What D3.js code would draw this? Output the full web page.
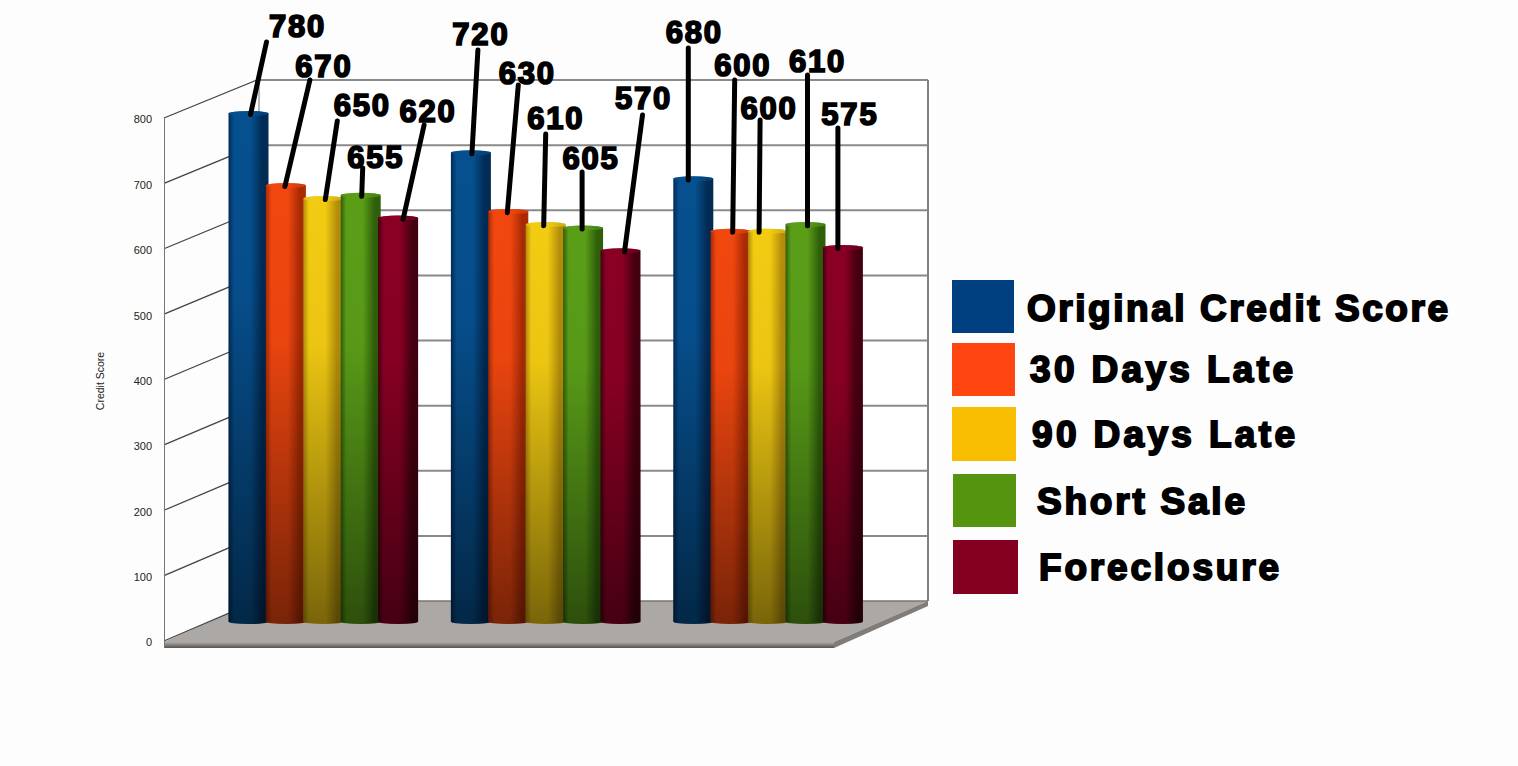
<!DOCTYPE html>
<html><head><meta charset="utf-8">
<script src="https://cdn.jsdelivr.net/npm/d3@7/dist/d3.min.js"></script>
<style>html,body{margin:0;padding:0;background:#fdfdfd;overflow:hidden}svg{display:block}</style>
</head><body><svg id="c" width="1518" height="766"></svg>
<script>
const groups = ["Group A","Group B","Group C"];
const seriesNames = ["Original Credit Score","30 Days Late","90 Days Late","Short Sale","Foreclosure"];
const originalScore = [780,720,680];
const days30 = [670,630,600];
const days90 = [650,610,600];
const shortSale = [655,605,610];
const foreclosure = [620,570,575];
const seriesValues = [originalScore,days30,days90,shortSale,foreclosure];
const axisTicks = [0,100,200,300,400,500,600,700,800];
// palette per series: edge, highlight, swatch
const barMid = ["#06508f","#f1470f","#f2cb12","#5a9e18","#8a0024"];
const barEdge = ["#022b55","#a92a05","#b38d0a","#2f5f0a","#450010"];
const swatch = ["#004080","#ff4510","#f8bc00","#55940f","#850020"];
// hand-placed annotations: [label dx, label y, leader tip dx, leader tip y, leader foot dx] by series then group
const labelLayout = [
 [[49,26,18,42,2],[10,34,7,50,1],[1,32,-5,48,-5]],
 [[38,66,24,80,-1],[19,73,10,85,-1],[12,65,4,80,2]],
 [[39,105,14,121,2],[10,118,0,134,-2],[1,108,-8,120,-9]],
 [[15,157,2,168,1],[8,158,-1,172,-1],[12,61,2,75,2]],
 [[30,111,26,125,5],[23,98,22,115,4],[7,114,-5,128,-5]]
];

const svg = d3.select("#c");
const defs = svg.append("defs");

// wall geometry
const frontX = 164, backL = 257, backR = 928, frontR = 834;
const yFront = d3.scaleLinear().domain([0,800]).range([641,118]);
const yBack = d3.scaleLinear().domain([0,800]).range([601,80]);
const yBar = d3.scaleLinear().domain([0,800]).range([623.5,100.5]);
const x0 = d3.scaleBand().domain(groups).range([228.5,228.5+3*222.4]);
const x1 = d3.scalePoint().domain(seriesNames).range([0,149.6]);
const barW = 40, rx = barW/2, ry = 2.6, barBase = 621.5;

const fp = pts => d3.line()(pts)+"Z";
// back wall
svg.append("path").attr("d",fp([[backL,yBack(800)],[backR,yBack(800)],[backR,yBack(0)],[backL,yBack(0)]])).attr("fill","#ffffff");
// floor
const fg = defs.append("linearGradient").attr("id","edge").attr("x1",0).attr("y1",0).attr("x2",0).attr("y2",1);
fg.append("stop").attr("offset",0).attr("stop-color","#b0acaa");
fg.append("stop").attr("offset",1).attr("stop-color","#55524f");
svg.append("path").attr("d",fp([[frontX,642],[frontR,642],[backR,yBack(0)],[backL,yBack(0)]])).attr("fill","#aca8a6");
svg.append("path").attr("d",fp([[frontX,642],[frontR,642],[frontR,648],[frontX,648]])).attr("fill","url(#edge)");
svg.append("path").attr("d",fp([[frontR,642],[backR,yBack(0)],[backR,606],[frontR,648]])).attr("fill","#807c79");
// grid on back wall and side wall
axisTicks.forEach(t=>{
  if(t>0) svg.append("line").attr("x1",backL).attr("x2",backR).attr("y1",yBack(t)).attr("y2",yBack(t)).attr("stroke","#8a8a8a").attr("stroke-width",2);
  svg.append("line").attr("x1",frontX).attr("x2",backL).attr("y1",yFront(t)).attr("y2",yBack(t)).attr("stroke","#444").attr("stroke-width",1.3);
});
svg.append("line").attr("x1",backR).attr("x2",backR).attr("y1",yBack(800)).attr("y2",yBack(0)).attr("stroke","#808080").attr("stroke-width",2);
svg.append("line").attr("x1",backL+2).attr("x2",backL+2).attr("y1",yBack(800)).attr("y2",yBack(0)).attr("stroke","#a0a0a0").attr("stroke-width",1.5);
svg.append("line").attr("x1",frontX+.5).attr("x2",frontX+.5).attr("y1",yFront(800)).attr("y2",648).attr("stroke","#777").attr("stroke-width",1);
svg.append("line").attr("x1",backL).attr("x2",backR).attr("y1",yBack(0)).attr("y2",yBack(0)).attr("stroke","#777").attr("stroke-width",1.5);

// axis
const ax = svg.append("g").attr("transform",`translate(${frontX-12},1)`)
  .call(d3.axisLeft(yFront).tickValues(axisTicks).tickSize(0).tickPadding(0));
ax.select(".domain").remove();
ax.selectAll("text").attr("font-family","Liberation Sans, Arial, sans-serif").attr("font-size",11).attr("fill","#222").attr("dy","0.36em");
svg.append("text").attr("transform","translate(104,381) rotate(-90)").attr("text-anchor","middle")
  .attr("font-family","Liberation Sans, Arial, sans-serif").attr("font-size",10.5).attr("fill","#222").text("Credit Score");

// gradients
seriesNames.forEach((s,i)=>{
  const g = defs.append("linearGradient").attr("id","b"+i);
  g.append("stop").attr("offset",0).attr("stop-color",barEdge[i]);
  g.append("stop").attr("offset",.14).attr("stop-color",barMid[i]);
  g.append("stop").attr("offset",.55).attr("stop-color",barMid[i]);
  g.append("stop").attr("offset",.85).attr("stop-color",barEdge[i]);
  g.append("stop").attr("offset",1).attr("stop-color",barEdge[i]);
});
const shade = defs.append("linearGradient").attr("id","shade").attr("x1",0).attr("y1",0).attr("x2",0).attr("y2",1).attr("gradientUnits","objectBoundingBox");
shade.append("stop").attr("offset",0).attr("stop-color","#000").attr("stop-opacity",0);
shade.append("stop").attr("offset",.35).attr("stop-color","#000").attr("stop-opacity",.03);
shade.append("stop").attr("offset",1).attr("stop-color","#000").attr("stop-opacity",.5);

// cylinders
const cyl = (x,top)=>{
  const p = `M${x},${top}A${rx},${ry} 0 0 1 ${x+barW},${top}L${x+barW},${barBase}A${rx},${ry} 0 0 1 ${x},${barBase}Z`;
  return p;
};
groups.forEach((g,gi)=>{
  seriesNames.forEach((s,si)=>{
    const x = x0(g)+x1(s), v = seriesValues[si][gi], top = yBar(v);
    svg.append("path").attr("d",cyl(x,top)).attr("fill",`url(#b${si})`);
    svg.append("path").attr("d",cyl(x,top)).attr("fill","url(#shade)");
    svg.append("ellipse").attr("cx",x+rx).attr("cy",top).attr("rx",rx).attr("ry",ry).attr("fill",barMid[si]).attr("opacity",.6);
  });
});
// leaders & labels
const font = "'Liberation Sans', Arial, sans-serif";
groups.forEach((g,gi)=>{
  seriesNames.forEach((s,si)=>{
    const cx = x0(g)+x1(s)+rx, v = seriesValues[si][gi], L = labelLayout[si][gi];
    svg.append("line").attr("x1",cx+L[4]).attr("y1",yBar(v)+1).attr("x2",cx+L[2]).attr("y2",L[3])
      .attr("stroke","#000").attr("stroke-width",5).attr("stroke-linecap","round");
    svg.append("text").attr("x",cx+L[0]).attr("y",L[1]).attr("dy","0.36em").attr("text-anchor","middle")
      .attr("font-family",font).attr("font-weight",700).attr("font-size",31).attr("letter-spacing",1.8)
      .attr("stroke","#000").attr("stroke-width",1.7).attr("fill","#000").text(v);
  });
});
// legend
const legendTextX = [1027,1030,1032,1037,1039], legendSwX=[952,952,952,953,953], legendSwW=[62,63,64,63,65], legendSwH=[53,53,54,53,54], legendSwY=[280,343,407,474,540];
const legendBase = [321,382,447,514,580], legendLen = [421,263,263,208,240];
seriesNames.forEach((s,i)=>{
  svg.append("rect").attr("x",legendSwX[i]).attr("y",legendSwY[i]).attr("width",legendSwW[i]).attr("height",legendSwH[i]).attr("fill",swatch[i]);
  svg.append("text").attr("x",legendTextX[i]).attr("y",legendBase[i])
    .attr("font-family",font).attr("font-weight",700).attr("font-size",37)
    .attr("textLength",legendLen[i]).attr("lengthAdjust","spacing")
    .attr("stroke","#000").attr("stroke-width",1.9).attr("fill","#000").text(s);
});
</script></body></html>
